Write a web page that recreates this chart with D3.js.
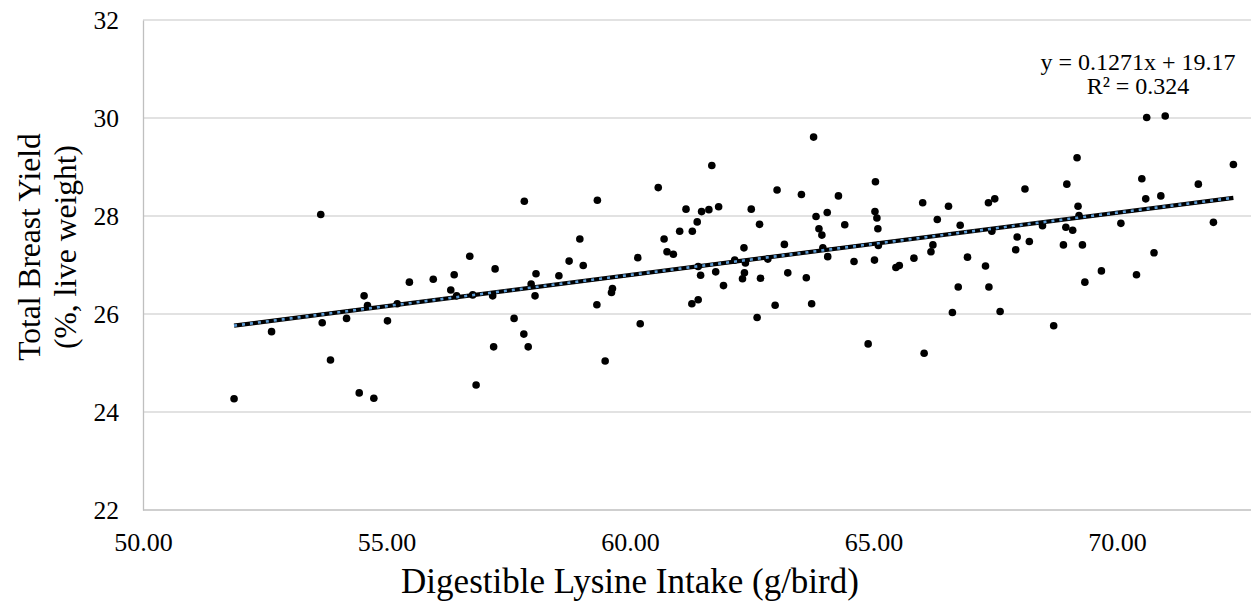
<!DOCTYPE html>
<html>
<head>
<meta charset="utf-8">
<script src="https://cdn.jsdelivr.net/npm/d3@7"></script>
<style>
  html, body { margin: 0; padding: 0; background: #fff; }
  svg { display: block; }
  text { font-family: "Liberation Serif", "Times New Roman", serif; fill: #000; }
</style>
</head>
<body>
<svg id="chart" width="1251" height="608"></svg>
<script>
// ---- data ----
const lysineIntake = [
  51.87, 52.64, 53.65, 53.68, 54.18, 53.85, 54.54, 54.61, 55.02, 55.22,
  55.47, 54.44, 54.74, 55.96, 56.32, 56.39, 56.44, 56.71, 56.77, 57.18,
  57.23, 57.83, 57.97, 58.07, 58.05, 58.54, 58.75, 58.97, 59.04, 59.33,
  59.62, 59.64, 60.16, 60.58, 60.70, 60.76, 60.89, 61.02, 61.15, 61.28,
  61.38, 61.47, 61.62, 61.68, 61.82, 61.40, 61.45, 61.76, 59.32, 61.27,
  61.40, 57.62, 57.82, 57.20, 57.91, 56.84, 59.49, 60.21, 63.77, 63.02,
  63.52, 64.28, 65.04, 62.49, 62.66, 63.82, 64.05, 63.88, 63.94, 64.41,
  65.03, 65.07, 65.09, 66.01, 66.31, 66.54, 66.78, 62.15, 62.34, 62.37,
  62.83, 63.17, 63.96, 64.06, 64.60, 65.02, 65.10, 65.46, 65.53, 65.83,
  66.18, 66.22, 66.93, 62.35, 62.31, 62.68, 63.24, 63.62, 61.92, 62.61,
  62.98, 63.73, 64.89, 66.04, 66.62, 66.74, 70.61, 70.99, 69.18, 70.51,
  72.39, 71.67, 68.97, 68.11, 67.36, 67.49, 69.20, 69.22, 70.59, 70.90,
  67.43, 67.95, 68.47, 68.95, 69.09, 70.08, 71.98, 68.20, 67.92, 68.90,
  69.29, 70.76, 67.30, 67.37, 67.60, 68.70, 69.34, 69.68, 70.40
];
const breastYield = [
  24.27, 25.64, 28.03, 25.82, 25.91, 25.06, 26.37, 26.17, 25.86, 26.21,
  26.65, 24.39, 24.28, 26.71, 26.49, 26.80, 26.37, 27.18, 26.39, 26.37,
  26.92, 28.30, 26.61, 26.82, 26.37, 26.78, 27.08, 27.53, 26.99, 28.32,
  26.44, 26.52, 27.15, 28.58, 27.53, 27.27, 27.22, 27.69, 28.14, 27.69,
  27.88, 28.09, 28.13, 29.03, 28.19, 26.97, 26.79, 26.86, 26.19, 26.21,
  26.29, 25.91, 25.59, 25.33, 25.33, 24.55, 25.04, 25.80, 29.61, 28.53,
  28.44, 28.41, 28.70, 28.14, 27.83, 27.99, 28.07, 27.74, 27.61, 27.82,
  28.09, 27.96, 27.74, 28.27, 27.93, 28.20, 27.81, 27.10, 27.35, 27.04,
  27.12, 27.42, 27.35, 27.17, 27.07, 27.10, 27.40, 26.95, 26.99, 27.14,
  27.27, 27.41, 27.16, 26.84, 26.72, 26.73, 26.84, 26.74, 26.58, 25.93,
  26.18, 26.21, 25.39, 25.20, 26.03, 26.55, 30.01, 30.04, 29.19, 28.76,
  29.05, 28.65, 28.65, 28.55, 28.27, 28.35, 28.20, 28.01, 28.35, 28.41,
  27.69, 27.57, 27.80, 27.77, 27.71, 27.85, 27.87, 27.48, 27.31, 27.41,
  27.41, 27.25, 26.98, 26.55, 26.05, 25.76, 26.65, 26.88, 26.80
];
const xTicks = [50, 55, 60, 65, 70];
const yTicks = [22, 24, 26, 28, 30, 32];
const trendSlope = 0.1271;
const trendIntercept = 19.17;
const equationLines = ["y = 0.1271x + 19.17", "R\u00B2 = 0.324"];
const xTitle = "Digestible Lysine Intake (g/bird)";
const yTitleLines = ["Total Breast Yield", "(%, live weight)"];

// ---- layout ----
const svg = d3.select("#chart");
const plotLeft = 143, plotTop = 20, plotBottom = 510, plotRight = 1251;
const x = d3.scaleLinear().domain([50, 75]).range([plotLeft, plotLeft + 25 * 48.7]);
const y = d3.scaleLinear().domain([22, 32]).range([plotBottom, plotTop]);

// gridlines
svg.append("g").selectAll("line").data(yTicks.filter(d => d > 22)).join("line")
  .attr("x1", plotLeft).attr("x2", plotRight)
  .attr("y1", d => y(d)).attr("y2", d => y(d))
  .attr("stroke", "#d9d9d9").attr("stroke-width", 1.3);

// axes
const yAxis = d3.axisLeft(y).tickValues(yTicks).tickSize(0).tickPadding(24)
  .tickFormat(d3.format("d"));
const gy = svg.append("g").attr("transform", `translate(${plotLeft},0)`).call(yAxis);
gy.select(".domain").attr("stroke", "#bfbfbf").attr("stroke-width", 1.3);
gy.selectAll("text").style("font-size", "25.5px").attr("font-family", "Liberation Serif")
  .attr("dy", "0.34em");

const xAxis = d3.axisBottom(x).tickValues(xTicks).tickSize(0).tickPadding(23)
  .tickFormat(d3.format(".2f"));
const gx = svg.append("g").attr("transform", `translate(0,${plotBottom})`).call(xAxis);
gx.select(".domain").remove();
gx.append("line").attr("x1", plotLeft).attr("x2", plotRight).attr("y1", 0).attr("y2", 0)
  .attr("stroke", "#bfbfbf").attr("stroke-width", 1.3);
gx.selectAll(".tick text").style("font-size", "26px").attr("font-family", "Liberation Serif")
  .attr("dy", "0.68em");

// points
const pts = lysineIntake.map((v, i) => ({ x: v, y: breastYield[i] }));
svg.append("g").selectAll("circle").data(pts).join("circle")
  .attr("cx", d => x(d.x)).attr("cy", d => y(d.y)).attr("r", 3.8)
  .attr("fill", "#000");

// trendline
const xmin = d3.min(lysineIntake), xmax = d3.max(lysineIntake);
const trend = [xmin, xmax].map(v => [x(v), y(trendSlope * v + trendIntercept)]);
const line = d3.line();
svg.append("path").attr("d", line(trend)).attr("stroke", "#000")
  .attr("stroke-width", 4.2).attr("fill", "none");
svg.append("path").attr("d", line(trend)).attr("stroke", "#5b9bd5")
  .attr("stroke-width", 2.6).attr("stroke-dasharray", "3 5").attr("fill", "none");

// equation
svg.append("text").attr("x", 1138).attr("y", 70).attr("text-anchor", "middle")
  .style("font-size", "24px").text(equationLines[0]);
svg.append("text").attr("x", 1138).attr("y", 94).attr("text-anchor", "middle")
  .style("font-size", "24px").text(equationLines[1]);

// titles
svg.append("text").attr("x", 630).attr("y", 593).attr("text-anchor", "middle")
  .style("font-size", "35px").text(xTitle);
const yt = svg.append("text").attr("transform", "translate(0,247) rotate(-90)")
  .attr("text-anchor", "middle").style("font-size", "31.5px");
yt.append("tspan").attr("x", 0).attr("y", 40).text(yTitleLines[0]);
yt.append("tspan").attr("x", 0).attr("y", 76).text(yTitleLines[1]);
</script>
</body>
</html>
